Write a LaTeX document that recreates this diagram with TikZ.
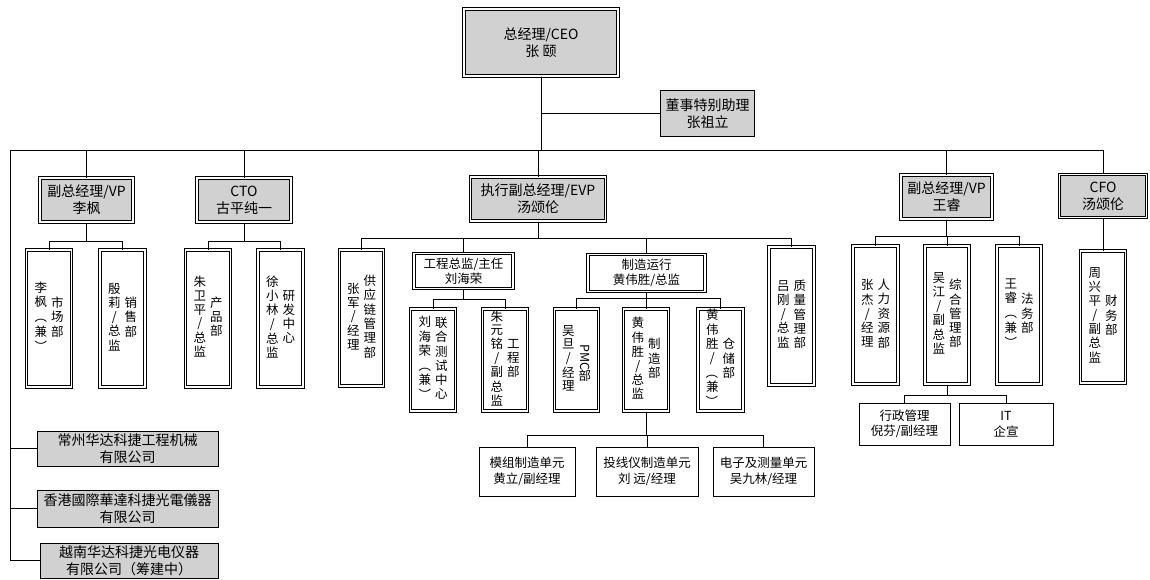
\documentclass[tikz,border=0pt]{standalone}
\usepackage{fontspec}
\setmainfont{Noto Sans CJK SC}
\usepackage{graphicx}
\newcommand{\vcol}[1]{\begin{tabular}[c]{@{}c@{}}#1\end{tabular}}
\newcommand{\vpair}[2]{\vcol{#1}\hspace{4pt}\vcol{#2}}
\newcommand{\lp}{\rotatebox[origin=c]{-90}{（}}
\newcommand{\rp}{\rotatebox[origin=c]{-90}{）}}
\tikzset{
  box/.style={draw, line width=.8pt, inner sep=0pt},
  twoline/.style={box, double, line width=1pt, double distance=1.6pt},
  headbox/.style={twoline, fill=black!18, align=center, font=\fontsize{14}{17}\selectfont},
  deptbox/.style={twoline, fill=white, font=\fontsize{12.5}{13}\selectfont},
  leadbox/.style={twoline, fill=white, align=center, font=\fontsize{12.5}{15.5}\selectfont},
  unitbox/.style={box, fill=white, align=center, font=\fontsize{12.5}{15.5}\selectfont},
  corpbox/.style={box, fill=black!18, align=center, font=\fontsize{14}{17}\selectfont},
  link/.style={line width=.8pt},
}
\begin{document}
\begin{tikzpicture}[x=1pt,y=-1pt]
\useasboundingbox (0,0) rectangle (1150,579);
% top
\node[headbox, minimum width=154pt, minimum height=67pt] (ceo) at (541,42.5) {总经理/CEO\\张 颐};
\node[corpbox, minimum width=94pt, minimum height=46pt] (asst) at (707.5,113.5) {董事特别助理\\张祖立};
% second level
\node[headbox, minimum width=93pt, minimum height=44pt] (vpa) at (86.5,200) {副总经理/VP\\李枫};
\node[headbox, minimum width=94pt, minimum height=44pt] (cto) at (244,200) {CTO\\古平纯一};
\node[headbox, minimum width=135pt, minimum height=44pt] (evp) at (538,199) {执行副总经理/EVP\\汤颂伦};
\node[headbox, minimum width=91pt, minimum height=44pt] (vpb) at (946.5,197) {副总经理/VP\\王睿};
\node[headbox, minimum width=87pt, minimum height=43pt] (cfo) at (1103,196) {CFO\\汤颂伦};
% departments
\node[deptbox, minimum width=45pt, minimum height=137pt] (mkt) at (49,318.5) {\vpair{李\\枫\\\lp\\兼\\\rp}{市\\场\\部}};
\node[deptbox, minimum width=45pt, minimum height=137pt] (sale) at (122.5,318.5) {\vpair{殷\\莉\\/\\总\\监}{销\\售\\部}};
\node[deptbox, minimum width=45pt, minimum height=137pt] (prod) at (208,318.5) {\vpair{朱\\卫\\平\\/\\总\\监}{产\\品\\部}};
\node[deptbox, minimum width=45pt, minimum height=137pt] (rd) at (280.5,318.5) {\vpair{徐\\小\\林\\/\\总\\监}{研\\发\\中\\心}};
\node[deptbox, minimum width=44pt, minimum height=136pt] (scm) at (361.5,318) {\vpair{张\\军\\/\\经\\理}{供\\应\\链\\管\\理\\部}};
\node[leadbox, minimum width=99pt, minimum height=35pt] (eng) at (463.5,271) {工程总监/主任\\刘海荣};
\node[leadbox, minimum width=117pt, minimum height=37pt] (mfg) at (646.5,273) {制造运行\\黄伟胜/总监};
\node[deptbox, minimum width=45pt, minimum height=102pt] (test) at (433,360) {\vpair{刘\\海\\荣\\\lp\\兼\\\rp}{联\\合\\测\\试\\中\\心}};
\node[deptbox, minimum width=45pt, minimum height=102pt] (engd) at (505,360) {\vpair{朱\\元\\铭\\/\\副\\总\\监}{工\\程\\部}};
\node[deptbox, minimum width=44pt, minimum height=102pt] (pmc) at (576.5,360) {\vpair{吴\\旦\\/\\经\\理}{\rotatebox{-90}{PMC}\\部}};
\node[deptbox, minimum width=45pt, minimum height=102pt] (make) at (646,360) {\vpair{黄\\伟\\胜\\/\\总\\监}{制\\造\\部}};
\node[deptbox, minimum width=45pt, minimum height=102pt] (store) at (720.5,360) {\vpair{黄\\伟\\胜\\/\\\lp\\兼\\\rp}{仓\\储\\部}};
\node[deptbox, minimum width=45pt, minimum height=138pt] (qa) at (791.5,316) {\vpair{吕\\刚\\/\\总\\监}{质\\量\\管\\理\\部}};
\node[deptbox, minimum width=45pt, minimum height=138pt] (hr) at (875.5,315) {\vpair{张\\杰\\/\\经\\理}{人\\力\\资\\源\\部}};
\node[deptbox, minimum width=44pt, minimum height=138pt] (gen) at (947,315) {\vpair{吴\\江\\/\\副\\总\\监}{综\\合\\管\\理\\部}};
\node[deptbox, minimum width=44pt, minimum height=138pt] (legal) at (1019,315) {\vpair{王\\睿\\\lp\\兼\\\rp}{法\\务\\部}};
\node[deptbox, minimum width=45pt, minimum height=132pt] (fin) at (1103,317) {\vpair{周\\兴\\平\\/\\副\\总\\监}{财\\务\\部}};
% units
\node[unitbox, minimum width=96pt, minimum height=49pt] (mod) at (527,471.5) {模组制造单元\\黄立/副经理};
\node[unitbox, minimum width=102pt, minimum height=49pt] (laser) at (647,471.5) {投线仪制造单元\\刘 远/经理};
\node[unitbox, minimum width=101pt, minimum height=49pt] (elec) at (763.5,471.5) {电子及测量单元\\吴九林/经理};
\node[unitbox, minimum width=91pt, minimum height=42pt] (adm) at (904.5,424) {行政管理\\倪芬/副经理};
\node[unitbox, minimum width=94pt, minimum height=42pt] (it) at (1006,424) {IT\\企宣};
% subsidiaries
\node[corpbox, minimum width=181pt, minimum height=35pt] (coa) at (127.5,448.5) {常州华达科捷工程机械\\有限公司};
\node[corpbox, minimum width=181pt, minimum height=37pt] (cob) at (127.5,508.5) {香港國際華達科捷光電儀器\\有限公司};
\node[corpbox, minimum width=178pt, minimum height=35pt] (coc) at (129,560.5) {越南华达科捷光电仪器\\有限公司（筹建中）};
\coordinate (trunk) at (10,561);
% connectors
\draw[link] (ceo.south |- asst.west) -- (asst.west);
\foreach \n in {vpa,cto,evp,vpb,cfo,trunk}
  \draw[link] (ceo.south) -- ++(0,74) -| (\n);
\foreach \n in {coa,cob,coc}
  \draw[link] (trunk |- \n.west) -- (\n.west);
\foreach \n in {mkt,sale}
  \draw[link] (vpa.south) -- ++(0,19) -| (\n.north);
\foreach \n in {prod,rd}
  \draw[link] (cto.south) -- ++(0,19) -| (\n.north);
\foreach \n in {scm,eng,mfg,qa}
  \draw[link] (evp.south) -- ++(0,17) -| (\n.north);
\foreach \n in {test,engd}
  \draw[link] (eng.south) -- ++(0,10) -| (\n.north);
\foreach \n in {pmc,make,store}
  \draw[link] (mfg.south) -- ++(0,6) -| (\n.north);
\foreach \n in {mod,laser,elec}
  \draw[link] (make.south) -- ++(0,24) -| (\n.north);
\foreach \n in {hr,gen,legal}
  \draw[link] (vpb.south) -- ++(0,17) -| (\n.north);
\foreach \n in {adm,it}
  \draw[link] (gen.south) -- ++(0,11) -| (\n.north);
\draw[link] (cfo) -- (fin);
\end{tikzpicture}
\end{document}
